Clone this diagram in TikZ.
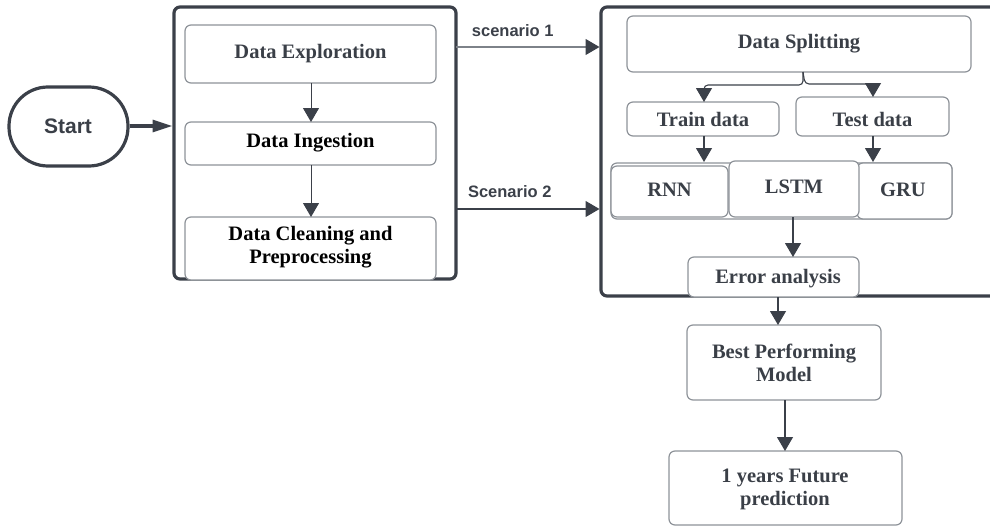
\documentclass[tikz,border=0pt]{standalone}
\usepackage{fontspec}
\setmainfont{Liberation Serif}
\setsansfont{Liberation Sans}
\usetikzlibrary{arrows.meta}
\definecolor{dk}{HTML}{3B4049}
\definecolor{bx}{HTML}{8E9399}
\definecolor{tx}{HTML}{3A3F47}
\tikzset{
  x=1pt,y=-1pt,
  group/.style={draw=dk,line width=3.2pt,rounded corners=6pt},
  card/.style={draw=bx,line width=1.2pt,rounded corners=6pt,fill=white},
  lbl/.style={font=\fontsize{20.5}{23}\selectfont\bfseries,text=tx,align=center,inner sep=0pt},
  scen/.style={font=\sffamily\fontsize{16.5}{19}\selectfont\bfseries,text=dk,inner sep=0pt},
  conn/.style={draw=dk,line width=1.1pt,-{Triangle[width=16pt,length=14pt,color=dk]}},
}
\begin{document}
\begin{tikzpicture}
\useasboundingbox (0,0) rectangle (990,527);
\clip (0,0) rectangle (990,527);
% start
\draw[dk,line width=3.2pt,rounded corners=39pt,fill=white] (9,87) rectangle (128,166);
\node[inner sep=0pt,font=\sffamily\fontsize{21}{24}\selectfont\bfseries,text=tx] (start) at (68,126) {Start};
\coordinate (startE) at (129.5,126);
% left group
\draw[group] (174,7) rectangle (456,279);
\coordinate (lgW) at (172.5,126);
\coordinate (lgE1) at (456,47);
\coordinate (lgE2) at (456,209);
\draw[card] (185,25) rectangle (436,83);
\node[lbl] (expl) at (310.5,54) {Data Exploration};
\draw[card] (185,122) rectangle (436,165);
\node[lbl,text=black] (ingest) at (310.5,143) {Data Ingestion};
\draw[card] (185,217) rectangle (436,280);
\node[lbl,text=black] (clean) at (310.5,247) {Data Cleaning and\\Preprocessing};
\coordinate (e1) at (311,83);
\coordinate (i0) at (311,122);
\coordinate (i1) at (311,165);
\coordinate (c0) at (311,217);
\draw[conn,line width=1pt] (e1) -- (i0);
\draw[conn,line width=1pt] (i1) -- (c0);
\draw[dk,line width=3.2pt,-{Triangle[width=12pt,length=20pt]}] (startE) -- (lgW);
% right group
\draw[group] (601,7) rectangle (1010,296);
\coordinate (rgW1) at (599.5,47);
\coordinate (rgW2) at (599.5,209);
\draw[conn,draw=bx!80!dk] (lgE1) -- node[scen,above=10pt,xshift=-15pt] (s1) {scenario 1} (rgW1);
\draw[conn] (lgE2) -- node[scen,above=11pt,xshift=-18pt] (s2) {Scenario 2} (rgW2);
\draw[card] (627,16) rectangle (971,72);
\node[lbl] (split) at (799,44) {Data Splitting};
\draw[card] (627,102) rectangle (779,136);
\node[lbl] (train) at (703,119) {Train data};
\draw[card] (796,97) rectangle (949,136);
\node[lbl] (test) at (872.5,119) {Test data};
\coordinate (sp) at (803,72);
\draw[conn,rounded corners=4pt] (sp) -- (803,85) -- (704,85) -- (704,102);
\draw[conn,rounded corners=4pt] (sp) -- (805,84) -- (873,84) -- (873,97);
% models
\draw[card,draw=bx] (611,163) rectangle (952,219);
\draw[card] (611,166) rectangle (728,217);
\draw[card] (857,163) rectangle (952,219);
\draw[card] (729,161) rectangle (859,217);
\node[lbl] (rnn) at (669.5,190) {RNN};
\node[lbl] (lstm) at (794,187) {LSTM};
\node[lbl] (gru) at (903,190) {GRU};
\draw[conn] (704,136) -- (704,162);
\draw[conn] (873,136) -- (873,162);
% error
\draw[card] (688,257) rectangle (859,297);
\node[lbl] (err) at (778,279) {Error analysis};
\draw[conn] (793,217) -- (793,257);
% best
\draw[card] (687,325) rectangle (881,400);
\node[lbl] (best) at (784,363) {Best Performing\\Model};
\draw[conn] (778,297) -- (778,325);
% future
\draw[card] (669,451) rectangle (902,525);
\node[lbl] (fut) at (785,489) {1 years Future\\prediction};
\draw[conn] (785,400) -- (785,451);
\end{tikzpicture}
\end{document}
